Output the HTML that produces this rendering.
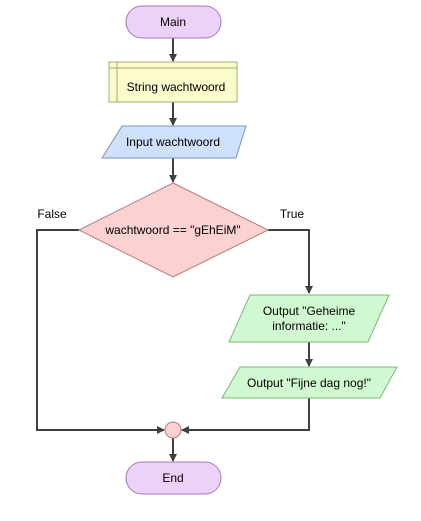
<!DOCTYPE html>
<html><head><style>body{margin:0;background:#fff}</style></head><body>
<svg width="421" height="516" xmlns="http://www.w3.org/2000/svg" font-family="Liberation Sans, sans-serif" font-size="12">
<defs><marker id="a" markerWidth="8" markerHeight="8" refX="7" refY="4" orient="auto" markerUnits="userSpaceOnUse"><path d="M0,0 L8,4 L0,8 z" fill="#404040"/></marker></defs>
<g stroke="#404040" stroke-width="2" fill="none">
<line x1="173" y1="38" x2="173" y2="61" marker-end="url(#a)"/>
<line x1="173" y1="102" x2="173" y2="125" marker-end="url(#a)"/>
<line x1="173" y1="158" x2="173" y2="182" marker-end="url(#a)"/>
<polyline points="268,230 309,230 309,293" marker-end="url(#a)"/>
<line x1="309" y1="342" x2="309" y2="366" marker-end="url(#a)"/>
<polyline points="309,398 309,430 182,430" marker-end="url(#a)"/>
<polyline points="79,230 37,230 37,430 164,430" marker-end="url(#a)"/>
<line x1="173" y1="438" x2="173" y2="461" marker-end="url(#a)"/>
</g>
<rect x="126" y="6" width="95" height="32" rx="16" fill="#ecd1f9" stroke="#a07cb8"/>
<text x="173" y="26" text-anchor="middle">Main</text>
<rect x="109" y="62" width="128" height="40" fill="#fbfbcc" stroke="#a8a870"/>
<line x1="109" y1="68" x2="237" y2="68" stroke="#a8a870"/>
<line x1="117" y1="62" x2="117" y2="102" stroke="#a8a870"/>
<text x="176" y="91" text-anchor="middle">String wachtwoord</text>
<polygon points="122,126 246,126 236,158 102,158" fill="#cfe0fb" stroke="#7c94b8"/>
<text x="173" y="146" text-anchor="middle">Input wachtwoord</text>
<polygon points="173,183 268,230 173,277 79,230" fill="#fbd1d1" stroke="#b87c7c"/>
<text x="173" y="234" text-anchor="middle">wachtwoord == "gEhEiM"</text>
<text x="52" y="218" text-anchor="middle">False</text>
<text x="292" y="218" text-anchor="middle">True</text>
<polygon points="250,295 389,295 368,342 229,342" fill="#d1f9d1" stroke="#7cb87c"/>
<text x="309" y="315" text-anchor="middle">Output "Geheime</text>
<text x="309" y="330" text-anchor="middle">informatie: ..."</text>
<polygon points="240,367 397,367 380,398 222,398" fill="#d1f9d1" stroke="#7cb87c"/>
<text x="309" y="387" text-anchor="middle">Output "Fijne dag nog!"</text>
<circle cx="173" cy="430" r="8" fill="#fbd1d1" stroke="#b87c7c"/>
<rect x="126" y="462" width="95" height="32" rx="16" fill="#ecd1f9" stroke="#a07cb8"/>
<text x="173" y="482" text-anchor="middle">End</text>
</svg>
</body></html>
